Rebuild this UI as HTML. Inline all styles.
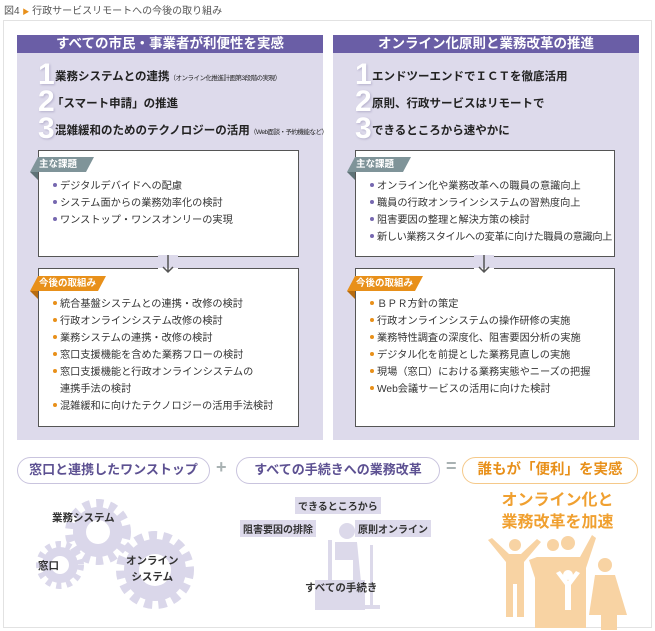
<!DOCTYPE html>
<html><head><meta charset="utf-8"><style>
*{margin:0;padding:0;box-sizing:border-box}
body{width:655px;height:631px;background:#fff;position:relative;overflow:hidden;font-family:"Liberation Sans","Noto Sans CJK JP",sans-serif;color:#333}
.a{position:absolute}
.panel{background:#dddaeb}
.hdr{background:#6a5ea6;color:#fff;font-weight:bold;font-size:13.5px;text-align:center;height:18px;line-height:18px}
.box{background:#fff;border:1.5px solid #555}
.num{font-size:30px;font-weight:bold;color:#fff;text-shadow:1px 1px 2px #b5b0cc;line-height:26px;font-family:"Liberation Sans",sans-serif}
.it{font-size:11.5px;font-weight:bold;color:#222;white-space:nowrap}
.it small{font-size:6.5px;font-weight:normal;letter-spacing:-0.5px}
.li{font-size:10.2px;line-height:17px;white-space:nowrap;color:#333}
.b1::before,.b2::before{content:"";display:inline-block;width:4px;height:4px;border-radius:50%;vertical-align:2px;margin-right:3px}
.b1::before{background:#7668b0}
.b2::before{background:#e8901a}
.tag{height:15px;color:#fff;font-size:9.5px;font-weight:bold;line-height:15px;padding-left:9px;white-space:nowrap;clip-path:polygon(8px 0,100% 0,calc(100% - 8px) 100%,0 100%)}
.pill{border:1.5px solid #c9c4de;border-radius:14px;height:27px;line-height:24px;text-align:center;font-size:13px;font-weight:bold;color:#5d5192;background:#fff}
.gl{background:#dddaeb;font-size:10px;font-weight:bold;padding:1px 3px;white-space:nowrap}
</style></head><body>
<div class="a" style="left:4px;top:2px;font-size:10px;color:#555">図4 <span style="color:#e8901a;font-size:7px">▶</span> 行政サービスリモートへの今後の取り組み</div>
<div class="a" style="left:3px;top:20px;width:649px;height:608px;border:1px solid #e2e2e2"></div>

<!-- left panel -->
<div class="a panel" style="left:17px;top:35px;width:306px;height:405px"></div>
<div class="a hdr" style="left:17px;top:35px;width:306px">すべての市民・事業者が利便性を実感</div>
<div class="a num" style="left:38px;top:62px">1</div>
<div class="a it" style="left:55px;top:68px">業務システムとの連携<small>（オンライン化推進計画第3段階の実現）</small></div>
<div class="a num" style="left:38px;top:89px">2</div>
<div class="a it" style="left:52px;top:95px">「スマート申請」の推進</div>
<div class="a num" style="left:38px;top:116px">3</div>
<div class="a it" style="left:55px;top:122px">混雑緩和のためのテクノロジーの活用<small>（Web面談・予約機能など）</small></div>
<div class="a box" style="left:38px;top:150px;width:261px;height:107px"></div>
<div class="a tag" style="left:30px;top:157px;width:64px;background:#7f9499">主な課題</div>
<div class="a" style="left:30px;top:172px;width:0;height:0;border-top:8px solid #5f7377;border-left:8px solid transparent"></div>
<div class="a" style="left:53px;top:178px">
<div class="li b1">デジタルデバイドへの配慮</div>
<div class="li b1">システム面からの業務効率化の検討</div>
<div class="li b1">ワンストップ・ワンスオンリーの実現</div></div>
<div class="a box" style="left:38px;top:268px;width:261px;height:159px"></div>
<svg class="a" style="left:155px;top:255px" width="26" height="20"><rect x="3" y="12" width="20" height="3" fill="#fff"/><rect x="3" y="0" width="20" height="13" fill="#dddaeb"/><path d="M13 0V17M8 12l5 5 5-5" stroke="#555" stroke-width="1.5" fill="none"/></svg>
<div class="a tag" style="left:30px;top:276px;width:76px;background:#e8901a">今後の取組み</div>
<div class="a" style="left:30px;top:291px;width:0;height:0;border-top:8px solid #b86c10;border-left:8px solid transparent"></div>
<div class="a" style="left:53px;top:296px">
<div class="li b2">統合基盤システムとの連携・改修の検討</div>
<div class="li b2">行政オンラインシステム改修の検討</div>
<div class="li b2">業務システムの連携・改修の検討</div>
<div class="li b2">窓口支援機能を含めた業務フローの検討</div>
<div class="li b2">窓口支援機能と行政オンラインシステムの</div>
<div class="li" style="padding-left:7px">連携手法の検討</div>
<div class="li b2">混雑緩和に向けたテクノロジーの活用手法検討</div></div>

<!-- right panel -->
<div class="a panel" style="left:333px;top:35px;width:306px;height:405px"></div>
<div class="a hdr" style="left:333px;top:35px;width:306px">オンライン化原則と業務改革の推進</div>
<div class="a num" style="left:355px;top:62px">1</div>
<div class="a it" style="left:372px;top:68px">エンドツーエンドでＩＣＴを徹底活用</div>
<div class="a num" style="left:355px;top:89px">2</div>
<div class="a it" style="left:372px;top:95px">原則、行政サービスはリモートで</div>
<div class="a num" style="left:355px;top:116px">3</div>
<div class="a it" style="left:372px;top:122px">できるところから速やかに</div>
<div class="a box" style="left:355px;top:150px;width:260px;height:107px"></div>
<div class="a tag" style="left:347px;top:157px;width:64px;background:#7f9499">主な課題</div>
<div class="a" style="left:347px;top:172px;width:0;height:0;border-top:8px solid #5f7377;border-left:8px solid transparent"></div>
<div class="a" style="left:370px;top:178px">
<div class="li b1">オンライン化や業務改革への職員の意識向上</div>
<div class="li b1">職員の行政オンラインシステムの習熟度向上</div>
<div class="li b1">阻害要因の整理と解決方策の検討</div>
<div class="li b1" style="letter-spacing:-0.4px">新しい業務スタイルへの変革に向けた職員の意識向上</div></div>
<div class="a box" style="left:355px;top:268px;width:260px;height:159px"></div>
<svg class="a" style="left:471px;top:255px" width="26" height="20"><rect x="3" y="12" width="20" height="3" fill="#fff"/><rect x="3" y="0" width="20" height="13" fill="#dddaeb"/><path d="M13 0V17M8 12l5 5 5-5" stroke="#555" stroke-width="1.5" fill="none"/></svg>
<div class="a tag" style="left:347px;top:276px;width:76px;background:#e8901a">今後の取組み</div>
<div class="a" style="left:347px;top:291px;width:0;height:0;border-top:8px solid #b86c10;border-left:8px solid transparent"></div>
<div class="a" style="left:370px;top:296px">
<div class="li b2">ＢＰＲ方針の策定</div>
<div class="li b2">行政オンラインシステムの操作研修の実施</div>
<div class="li b2">業務特性調査の深度化、阻害要因分析の実施</div>
<div class="li b2">デジタル化を前提とした業務見直しの実施</div>
<div class="li b2">現場（窓口）における業務実態やニーズの把握</div>
<div class="li b2">Web会議サービスの活用に向けた検討</div></div>

<!-- bottom -->
<div class="a pill" style="left:17px;top:457px;width:193px">窓口と連携したワンストップ</div>
<div class="a" style="left:216px;top:457px;font-size:18px;font-weight:bold;color:#a9b2b3">+</div>
<div class="a pill" style="left:236px;top:457px;width:204px">すべての手続きへの業務改革</div>
<div class="a" style="left:446px;top:456px;font-size:18px;font-weight:bold;color:#a9b2b3">=</div>
<div class="a pill" style="left:462px;top:457px;width:176px;border-color:#f5c98a;color:#e8901a;font-size:14.5px">誰もが「便利」を実感</div>

<svg class="a" style="left:0;top:490px" width="655" height="141">
<g fill="#dad7ea">
<circle cx="98" cy="42" r="28" stroke="#dad7ea" stroke-width="10" stroke-dasharray="7 6" fill="none"/>
<circle cx="98" cy="42" r="25"/>
<circle cx="60" cy="75" r="20" stroke="#dad7ea" stroke-width="8" stroke-dasharray="5 5" fill="none"/>
<circle cx="60" cy="75" r="18"/>
<circle cx="155" cy="80" r="34" stroke="#dad7ea" stroke-width="10" stroke-dasharray="8 6" fill="none"/>
<circle cx="155" cy="80" r="31"/>
</g>
<g fill="#fff"><circle cx="98" cy="42" r="12"/><circle cx="60" cy="75" r="9"/><circle cx="155" cy="80" r="16"/></g>
<g fill="#dcd9ea">
<circle cx="347" cy="41" r="8"/>
<path d="M335 52h22l4 40h-8v-22h-18z"/>
<rect x="328" y="50" width="4" height="40"/>
<rect x="315" y="90" width="50" height="30"/>
<rect x="370" y="55" width="3" height="60"/>
<rect x="355" y="115" width="25" height="4"/>
</g>
<g fill="#f8d3a3" transform="translate(0,45)">
<circle cx="515" cy="10" r="6"/><path d="M488 5l4-2 17 16h12l16-15 4 3-17 20v55h-7v-33h-4v33h-7v-55z"/>
<circle cx="553" cy="10" r="6"/><circle cx="568" cy="8" r="7"/>
<path d="M537 22h43l12-22 4 3-10 30v60h-51v-50l-6-18z"/>
<circle cx="605" cy="30" r="7"/><path d="M595 40h20l12 40h-10v15h-16v-15h-12z"/>
<g fill="#fff"><circle cx="568" cy="40" r="5"/><path d="M556 38l4-2 8 10 8-10 4 2-9 12v25h-6v-25z"/></g>
</g>
</svg>
<div class="a" style="left:52px;top:510px;font-size:10.5px;font-weight:bold">業務システム</div>
<div class="a" style="left:38px;top:558px;font-size:10.5px;font-weight:bold">窓口</div>
<div class="a" style="left:126px;top:553px;font-size:10.5px;font-weight:bold;text-align:center;line-height:16px">オンライン<br>システム</div>
<div class="a gl" style="left:295px;top:497px">できるところから</div>
<div class="a gl" style="left:240px;top:520px">阻害要因の排除</div>
<div class="a gl" style="left:355px;top:520px">原則オンライン</div>
<div class="a" style="left:305px;top:580px;font-size:10.5px;font-weight:bold">すべての手続き</div>
<div class="a" style="left:470px;top:490px;width:175px;text-align:center;font-size:16px;font-weight:bold;color:#f0a030;line-height:22px">オンライン化と<br>業務改革を加速</div>
</body></html>
